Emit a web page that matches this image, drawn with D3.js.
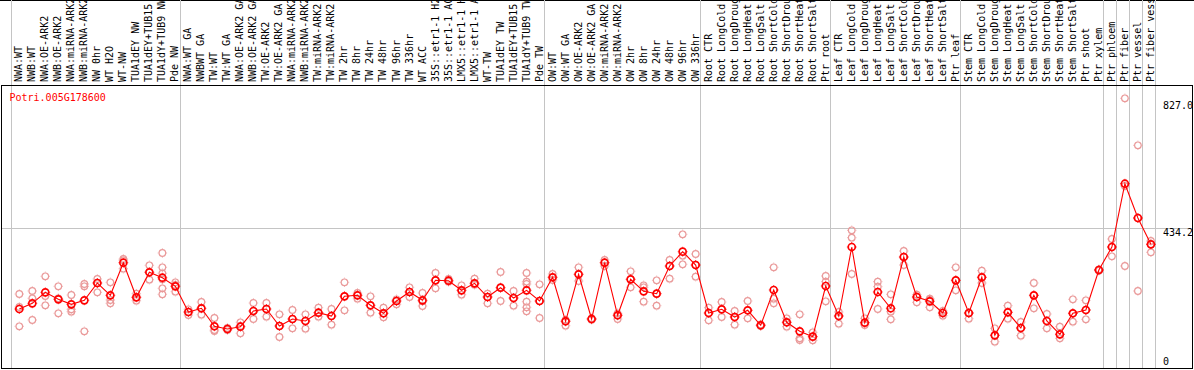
<!DOCTYPE html>
<html>
<head>
<meta charset="utf-8">
<script src="https://cdn.jsdelivr.net/npm/d3@7"></script>
<style>
  body { margin: 0; background: #fff; }
  svg { display: block; }
  text { font-family: "DejaVu Sans Mono", monospace; font-size: 10px; }
</style>
</head>
<body>
<svg width="1194" height="370"></svg>
<script>
// sample labels (as shown, cut to 14 chars)
var labels = [
  "NWA:WT", "NWB:WT", "NWA:OE-ARK2", "NWB:OE-ARK2", "NWA:miRNA-ARK2", "NWB:miRNA-ARK2",
  "NW 0hr", "WT H2O", "WT-NW", "TUA1dEY NW", "TUA1dEY+TUB15", "TUA1dY+TUB9 NW", "Pde NW",
  "NWA:WT GA", "NWBWT GA", "TW:WT", "TW:WT GA", "NWA:OE-ARK2 GA", "NWB:OE-ARK2 GA",
  "TW:OE-ARK2", "TW:OE-ARK2 GA", "NWA:miRNA-ARK2", "NWB:miRNA-ARK2", "TW:miRNA-ARK2", "TW:miRNA-ARK2",
  "TW 2hr", "TW 8hr", "TW 24hr", "TW 48hr", "TW 96hr", "TW 336hr", "WT ACC",
  "35S::etr1-1 H2", "35S::etr1-1 AC", "LMX5::etr1-1 H", "LMX5::etr1-1 A", "WT-TW",
  "TUA1dEY TW", "TUA1dEY+TUB15", "TUA1dY+TUB9 TW", "Pde TW",
  "OW:WT", "OW:WT GA", "OW:OE-ARK2", "OW:OE-ARK2 GA", "OW:miRNA-ARK2", "OW:miRNA-ARK2",
  "OW 2hr", "OW 8hr", "OW 24hr", "OW 48hr", "OW 96hr", "OW 336hr",
  "Root CTR", "Root LongCold", "Root LongDroug", "Root LongHeat", "Root LongSalt",
  "Root ShortCold", "Root ShortDrou", "Root ShortHeat", "Root ShortSalt", "Ptr root",
  "Leaf CTR", "Leaf LongCold", "Leaf LongDroug", "Leaf LongHeat", "Leaf LongSalt",
  "Leaf ShortCold", "Leaf ShortDrou", "Leaf ShortHeat", "Leaf ShortSalt", "Ptr leaf",
  "Stem CTR", "Stem LongCold", "Stem LongDroug", "Stem LongHeat", "Stem LongSalt",
  "Stem ShortCold", "Stem ShortDrou", "Stem ShortHeat", "Stem ShortSalt", "Ptr shoot", "Ptr xylem",
  "Ptr phloem", "Ptr fiber", "Ptr vessel", "Ptr fiber vess"
];

// how many samples sit between two grey separators
var groupSizes = [13, 28, 12, 10, 10, 11, 1, 1, 1, 1];

// mean expression per sample
var means = [
  183, 200.7, 234.8, 213.1, 197.6, 210, 263.7, 225.5, 326.6, 219.3, 296.9, 280.1, 253.4,
  173.7, 185.2, 129.4, 121, 128.1, 176.8, 183, 130.3, 152, 145.8, 171.5, 161.3,
  222.4, 225.5, 194.5, 169.7, 207.8, 235.8, 210, 272, 270.8, 241, 262.7, 220.2,
  249.1, 217.1, 241, 207.8,
  281.4, 144.9, 290.7, 152, 326.6, 163.5, 275.1, 237.9, 230.5, 316.4, 360.8, 319.5,
  170.6, 182.1, 158.2, 179, 132.5, 242, 141.8, 113.8, 97.1, 254.4,
  161.3, 375.3, 140.5, 235.8, 185.2, 344.3, 220.2, 206.9, 170.6, 272,
  170.6, 281.4, 101.4, 172.8, 124.1, 225.5, 145.8, 104.5, 169.7, 179.9, 304,
  375.3, 571.7, 465.3, 383.7
];

// replicate values per sample
var replicates = [
  [229.5, 189.2, 129.4], [238.9, 216.2, 148.9], [284.5, 223.3, 194.5], [253.4, 216.2, 169.7],
  [226.4, 182.1, 174.6], [260.6, 253.4, 113.8], [276.1, 263.7, 234.8], [265.8, 210.9, 200.7],
  [338.1, 334.1, 308], [230.5, 219.3, 208.8], [318.6, 297.8, 273.9],
  [356.7, 312.4, 293.8, 275.1, 247.2, 228.6], [265.8, 257.5, 236.7],
  [182.1, 173.7, 164.4], [204.7, 185.2, 165.3], [155.1, 117.9, 114.8], [124.1, 121, 117.9],
  [141.8, 130.3, 107.6], [201.6, 176.8, 152], [201.6, 183, 159.1], [166.6, 130.3, 96.2],
  [179.9, 152, 123.1], [166.6, 145.8, 121.9], [187.1, 171.5, 159.1], [183, 161.3, 134.3],
  [265.8, 222.4, 179], [232.7, 225.5, 215], [222.4, 194.5, 171.5], [187.1, 169.7, 157.3],
  [213.1, 207.8, 197.6], [250.3, 235.8, 220.2], [232.7, 206.9, 192.3], [294.7, 272, 247.2],
  [276.1, 270.8, 267.7], [256.5, 241, 227.4], [277, 262.7, 258.4], [230.5, 220.2, 200.7],
  [297.8, 249.1, 207.8], [238.9, 217.1, 193.3],
  [294.7, 267.7, 260.6, 205.7, 188.3, 175.9], [259.6, 207.8, 155.1],
  [291.6, 281.4, 273], [148.9, 144.9, 131.2], [312.4, 290.7, 269.9], [154, 152, 150],
  [335, 326.6, 316.4], [169.7, 163.5, 152], [300, 275.1, 250.3], [256.5, 250.3, 205.7],
  [272, 230.5, 193.3], [335, 316.4, 277], [414.7, 348.4, 321.7], [353.6, 319.5, 283.2],
  [187.1, 170.6, 148], [204.7, 182.1, 158.2], [176.8, 158.2, 134.3], [207.8, 179, 154.2],
  [135, 132.5, 130], [312.4, 215, 200.7], [154.2, 141.8, 128.1], [166.6, 92.1, 86.9],
  [110.7, 97.1, 85.9], [285.4, 267.7, 206.9],
  [173.7, 161.3, 137.4], [427.1, 404.2, 291.6], [154.2, 140.5, 133.4], [267.7, 252.2, 183],
  [228.6, 174.6, 151.1], [362.9, 344.3, 319.5], [227.4, 220.2, 203.8], [215, 210.9, 188.3],
  [176.8, 170.6, 162.2], [312.4, 272, 241],
  [170.6, 170.6, 152.9], [301.8, 281.4, 263.7], [123.1, 101.4, 81.6], [193.3, 172.8, 152.9],
  [142.7, 124.1, 100.2], [263.7, 225.5, 185.2], [167.5, 145.8, 123.1], [128.1, 104.5, 92.1],
  [213.1, 169.7, 143.6], [210, 179.9, 151.1], [306, 304, 302],
  [400.2, 375.3, 346.5], [836.6, 564.6, 316.4], [690.8, 465.3, 238.9], [394, 383.7, 358.9]
];

var yTicks = [827.0, 434.2, 0];
var geneName = "Potri.005G178600";

var svg = d3.select("svg");

var x = d3.scaleBand()
  .domain(d3.range(labels.length))
  .range([10.7, 10.7 + labels.length * 13.007]);
var y = d3.scaleLinear().domain([0, 827]).range([368, 101.4]);

var cx = function(i) { return x(i) + 8.6; };

// frame
var frame = svg.append("g").attr("shape-rendering", "crispEdges");
frame.append("line").attr("x1", 0).attr("x2", 1194).attr("y1", 0.5).attr("y2", 0.5).attr("stroke", "#000");

// group separators
var bounds = [0];
groupSizes.forEach(function(n) { bounds.push(bounds[bounds.length - 1] + n); });
frame.selectAll(".sep")
  .data(bounds)
  .enter()
  .append("line")
    .attr("class", "sep")
    .attr("x1", function(d) { return Math.round(x.range()[0] + d * x.step()) + 0.5; })
    .attr("x2", function(d) { return Math.round(x.range()[0] + d * x.step()) + 0.5; })
    .attr("y1", 0)
    .attr("y2", 368)
    .attr("stroke", "#c4c4c4");

// grid line at the middle tick
frame.append("line")
  .attr("x1", 1).attr("x2", 1193)
  .attr("y1", Math.round(y(434.2)) + 0.5).attr("y2", Math.round(y(434.2)) + 0.5)
  .attr("stroke", "#c4c4c4");

frame.append("rect")
  .attr("x", 1.5).attr("y", 85.5)
  .attr("width", 1191).attr("height", 283)
  .attr("fill", "none")
  .attr("stroke", "#000");

// rotated sample labels, cut at the top edge like the original
svg.append("clipPath").attr("id", "lblclip")
  .append("rect").attr("x", 0).attr("y", 1).attr("width", 1194).attr("height", 84);

svg.append("g")
  .attr("clip-path", "url(#lblclip)")
  .selectAll("text")
  .data(labels)
  .enter()
  .append("text")
    .attr("transform", function(d, i) { return "translate(" + (x(i) + 11.6) + ",82) rotate(-90)"; })
    .attr("fill", "#000")
    .text(function(d) { return d; });

// gene name
svg.append("text")
  .attr("x", 9.5)
  .attr("y", 100.5)
  .attr("fill", "#ff0000")
  .text(geneName);

// right axis labels
svg.selectAll(".ylab")
  .data(yTicks)
  .enter()
  .append("text")
    .attr("class", "ylab")
    .attr("x", 1163)
    .attr("y", function(d) { return d === 0 ? y(d) - 3 : y(d) + 8; })
    .attr("fill", "#000")
    .text(function(d) { return d === 0 ? "0" : d.toFixed(1); });

// tiny stubs on each circle, like the bitmap original
function ringTicks(r) {
  return "M0," + (-r - 1.4) + "v0.9M0," + (r + 0.5) + "v0.9M" + (-r - 1.4) + ",0h0.9M" + (r + 0.5) + ",0h0.9";
}

// replicates
var repPts = [];
replicates.forEach(function(arr, i) {
  arr.forEach(function(v) { repPts.push({ i: i, v: v }); });
});

var reps = svg.append("g").selectAll("g")
  .data(repPts)
  .enter()
  .append("g")
    .attr("transform", function(d) { return "translate(" + cx(d.i) + "," + y(d.v) + ")"; });
reps.append("circle")
  .attr("r", 3.3)
  .attr("fill", "none")
  .attr("stroke", "#ea9a9a")
  .attr("stroke-width", 1.2);
reps.append("path")
  .attr("d", ringTicks(3.3))
  .attr("stroke", "#ea9a9a")
  .attr("stroke-width", 0.8);

// mean line
var line = d3.line()
  .x(function(d, i) { return cx(i); })
  .y(function(d) { return y(d); });

svg.append("path")
  .datum(means)
  .attr("d", line)
  .attr("fill", "none")
  .attr("stroke", "#ff0000")
  .attr("stroke-width", 1.1);

var mpts = svg.append("g").selectAll("g")
  .data(means)
  .enter()
  .append("g")
    .attr("transform", function(d, i) { return "translate(" + cx(i) + "," + y(d) + ")"; });
mpts.append("circle")
  .attr("r", 3.5)
  .attr("fill", "none")
  .attr("stroke", "#ff0000")
  .attr("stroke-width", 1.7);
mpts.append("path")
  .attr("d", ringTicks(3.5))
  .attr("stroke", "#ff0000")
  .attr("stroke-width", 0.8);
</script>
</body>
</html>
